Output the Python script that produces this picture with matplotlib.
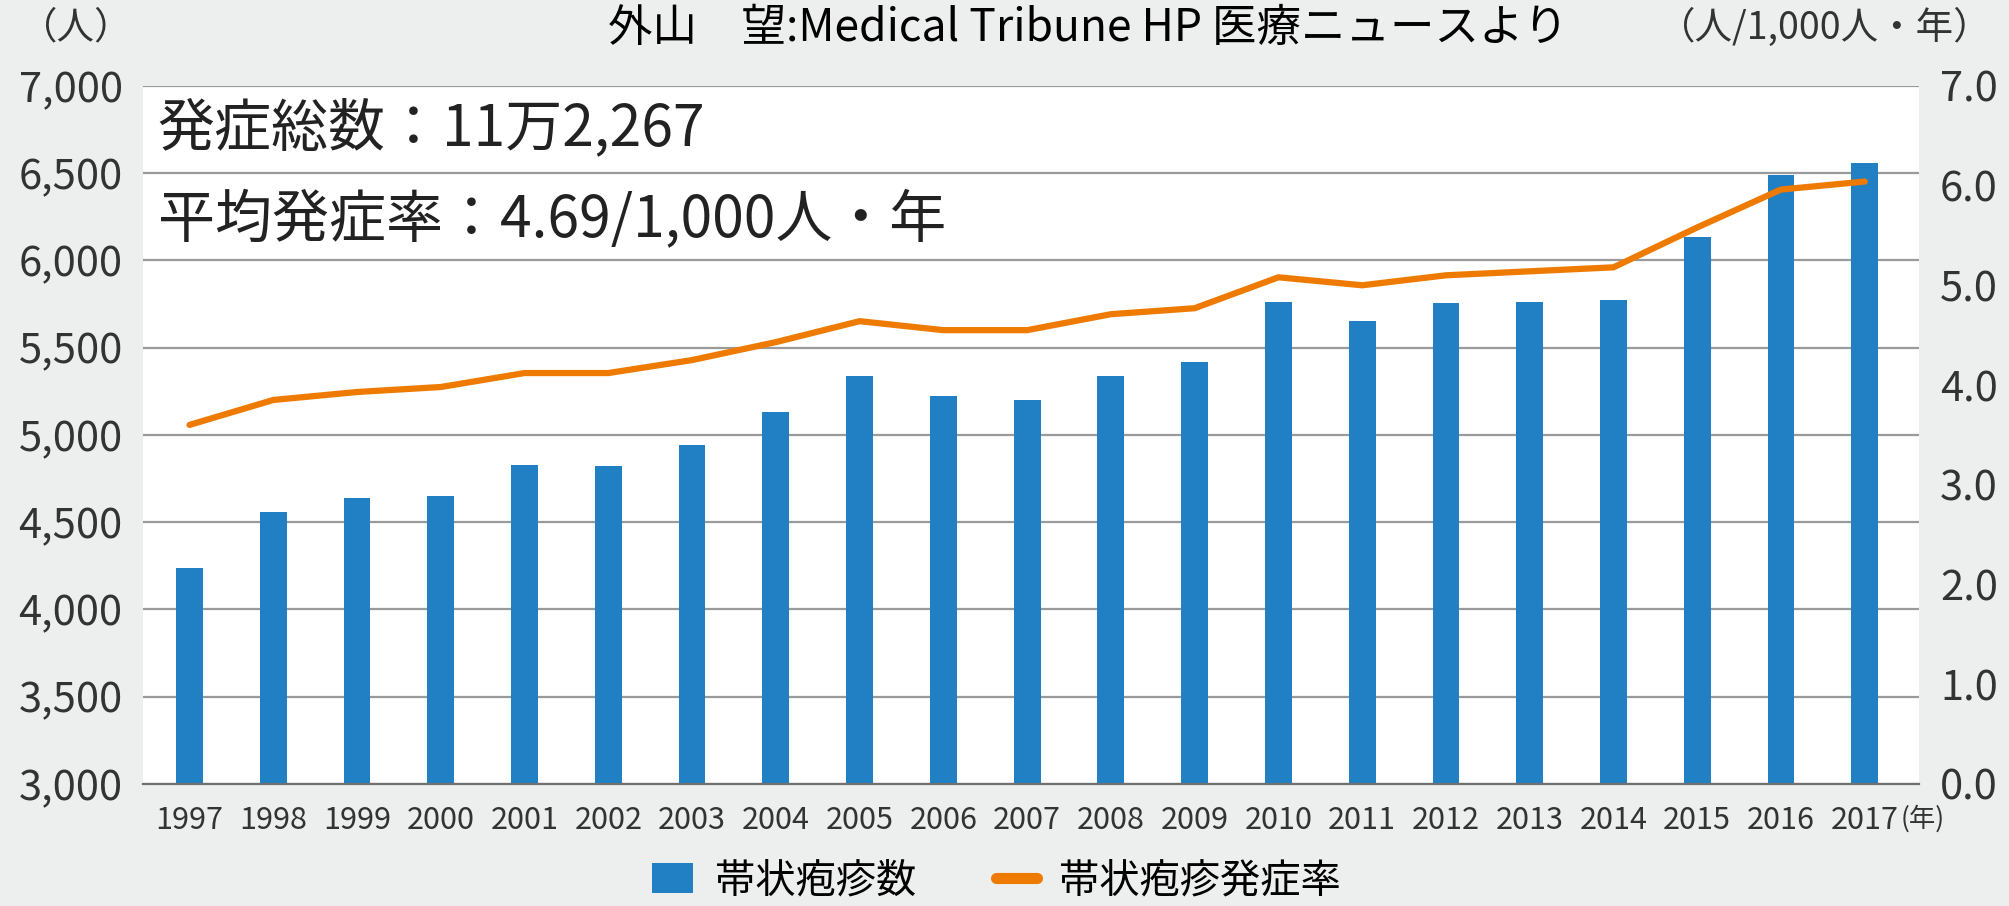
import matplotlib
matplotlib.use("Agg")
import matplotlib.pyplot as plt
from matplotlib.ticker import FuncFormatter
from matplotlib.patches import Patch
from matplotlib.lines import Line2D

# data
years = ["1997", "1998", "1999", "2000", "2001", "2002", "2003", "2004", "2005", "2006",
         "2007", "2008", "2009", "2010", "2011", "2012", "2013", "2014", "2015", "2016", "2017"]
cases = [4240, 4560, 4640, 4650, 4830, 4820, 4940, 5130, 5340, 5225,
         5200, 5340, 5420, 5760, 5650, 5755, 5760, 5775, 6135, 6490, 6555]
rate = [3.60, 3.85, 3.93, 3.98, 4.12, 4.12, 4.25, 4.43, 4.64, 4.55,
        4.55, 4.71, 4.77, 5.08, 5.00, 5.10, 5.14, 5.18, 5.58, 5.96, 6.04]

label_cases = "帯状疱疹数"
label_rate = "帯状疱疹発症率"

BLUE = "#2180c3"
ORANGE = "#ee7b00"

plt.rcParams['font.family'] = ['Noto Sans CJK JP', 'DejaVu Sans']

fig = plt.figure(figsize=(20.09, 9.06), dpi=100, facecolor="#edefee")
ax = fig.add_axes([0.0714, 0.1347, 0.8839, 0.7706])
ax.set_facecolor("white")

x = list(range(len(years)))
ax.bar(x, cases, width=0.32, color=BLUE, zorder=2)
ax.set_ylim(3000, 7000)
ax.set_xlim(-0.55, 20.65)
ax.set_yticks(range(3000, 7001, 500))
ax.yaxis.set_major_formatter(FuncFormatter(lambda v, p: f"{int(v):,}"))
ax.set_xticks(x)
ax.set_xticklabels(years)
ax.grid(axis="y", color="#9a9a9a", lw=1.6, zorder=0)
ax.set_axisbelow(True)
for s in ax.spines.values():
    s.set_visible(False)
ax.spines["bottom"].set_visible(True)
ax.spines["bottom"].set_color("#707070")
ax.spines["bottom"].set_linewidth(1.6)
ax.tick_params(axis="both", length=0)
ax.tick_params(axis="y", labelsize=30, pad=15, colors="#333333")
ax.tick_params(axis="x", labelsize=22, pad=15, colors="#333333")

ax2 = ax.twinx()
ax2.plot(x, rate, color=ORANGE, lw=4.5, solid_joinstyle="round", solid_capstyle="round", zorder=3)
ax2.set_ylim(0, 7)
ax2.set_yticks(range(0, 8))
ax2.yaxis.set_major_formatter(FuncFormatter(lambda v, p: f"{v:.1f}"))
for s in ax2.spines.values():
    s.set_visible(False)
ax2.tick_params(axis="y", length=0, labelsize=30, pad=15, colors="#333333")

# text in the plot
ax.text(0.008, 0.939, "発症総数：11万2,267", transform=ax.transAxes,
        fontsize=41, va="center", ha="left", color="#222222")
ax.text(0.008, 0.807, "平均発症率：4.69/1,000人・年", transform=ax.transAxes,
        fontsize=41, va="center", ha="left", color="#222222")
ax.annotate("(年)", xy=(20.43, 3000), xycoords="data", xytext=(0, -15),
            textcoords="offset points", ha="left", va="top", fontsize=19, color="#333333")

fig.text(0.5416, 0.969, "外山　望:Medical Tribune HP 医療ニュースより",
         ha="center", va="center", fontsize=32, color="black")
fig.text(0.038, 0.969, "（人）", ha="center", va="center", fontsize=27, color="#333333")
fig.text(0.9915, 0.969, "（人/1,000人・年）", ha="right", va="center", fontsize=27, color="#333333")

handles = [Patch(facecolor=BLUE),
           Line2D([0], [0], color=ORANGE, lw=8, solid_capstyle="round")]
fig.legend(handles, [label_cases, label_rate], loc="center", bbox_to_anchor=(0.496, 0.028),
           ncol=2, frameon=False, fontsize=29, handlelength=1.0, handleheight=0.75,
           columnspacing=2.0, handletextpad=0.55)

fig.savefig("out.png", dpi=100, facecolor=fig.get_facecolor())
